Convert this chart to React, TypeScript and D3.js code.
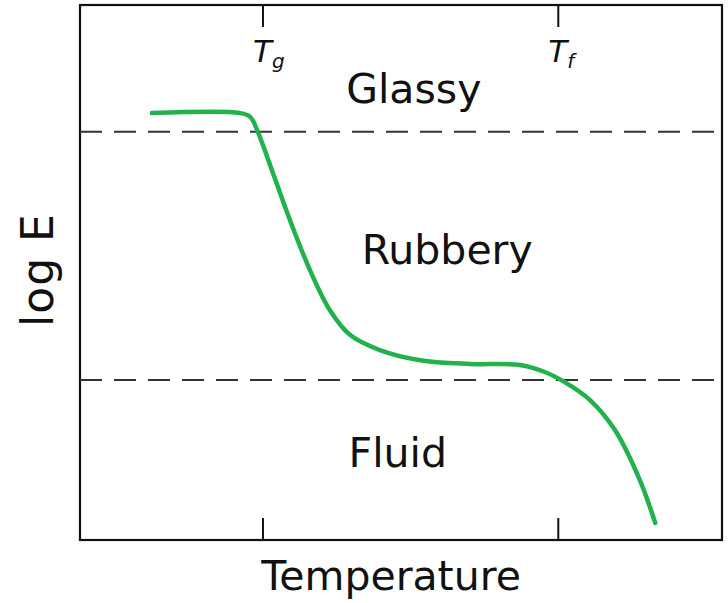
import React from "react";
import * as d3 from "d3";

const temps = [11.2, 24.9, 26.5, 27.7, 29.6, 32.7, 35.8, 38.9, 42.1, 46.7, 53.0, 60.7, 68.5, 72.4, 75.5, 79.4, 83.3, 87.2, 89.6];
const logE = [79.8, 79.8, 79.1, 76.3, 70.1, 59.8, 50.5, 43.0, 38.3, 35.5, 33.6, 32.9, 32.7, 31.4, 29.5, 26.2, 20.6, 11.2, 3.2];
const tickTemps = [28.5, 74.5];
const tickLabels = ["g", "f"];
const boundaries = [76.3, 29.9];
const regions = ["Glassy", "Rubbery", "Fluid"];
const regionX = [52.0, 57.2, 49.5];
const regionY = [81.7, 51.6, 13.6];

const W = 728, H = 603;
const x = d3.scaleLinear().domain([0, 100]).range([80, 722]);
const y = d3.scaleLinear().domain([0, 100]).range([540, 5]);

export default function App() {
  const pts = temps.map((t, i) => [t, logE[i]] as [number, number]);
  const line = d3.line<[number, number]>().x(d => x(d[0])).y(d => y(d[1])).curve(d3.curveCatmullRom.alpha(0.5));
  const font = "'DejaVu Sans', sans-serif";
  return (
    <svg width={W} height={H} style={{ position: "absolute", left: 0, top: 0, background: "#fff" }} fontFamily={font}>
      <rect x={x(0)} y={y(100)} width={x(100) - x(0)} height={y(0) - y(100)} fill="none" stroke="#111" strokeWidth={2.2} />
      {boundaries.map((b, i) => (
        <line key={i} x1={x(0)} x2={x(100)} y1={y(b)} y2={y(b)} stroke="#333" strokeWidth={2} strokeDasharray="22 12" />
      ))}
      {tickTemps.map((t, i) => (
        <g key={i}>
          <line x1={x(t)} x2={x(t)} y1={y(100)} y2={y(100) + 22} stroke="#111" strokeWidth={2} />
          <line x1={x(t)} x2={x(t)} y1={y(0)} y2={y(0) - 22} stroke="#111" strokeWidth={2} />
          <text x={x(t) - 10} y={62} fontSize={31} fontStyle="italic" textAnchor="start" fill="#111">
            T<tspan fontSize={20} dy={6}>{tickLabels[i]}</tspan>
          </text>
        </g>
      ))}
      {regions.map((r, i) => (
        <text key={r} x={x(regionX[i])} y={y(regionY[i])} fontSize={41} textAnchor="middle" fill="#111">{r}</text>
      ))}
      <path d={line(pts) || ""} fill="none" stroke="#22b24c" strokeWidth={4.5} strokeLinecap="round" />
      <text x={391} y={590} fontSize={41} textAnchor="middle" fill="#111">Temperature</text>
      <text transform="translate(53,270) rotate(-90)" fontSize={44} textAnchor="middle" fill="#111" letterSpacing={1}>log E</text>
    </svg>
  );
}
